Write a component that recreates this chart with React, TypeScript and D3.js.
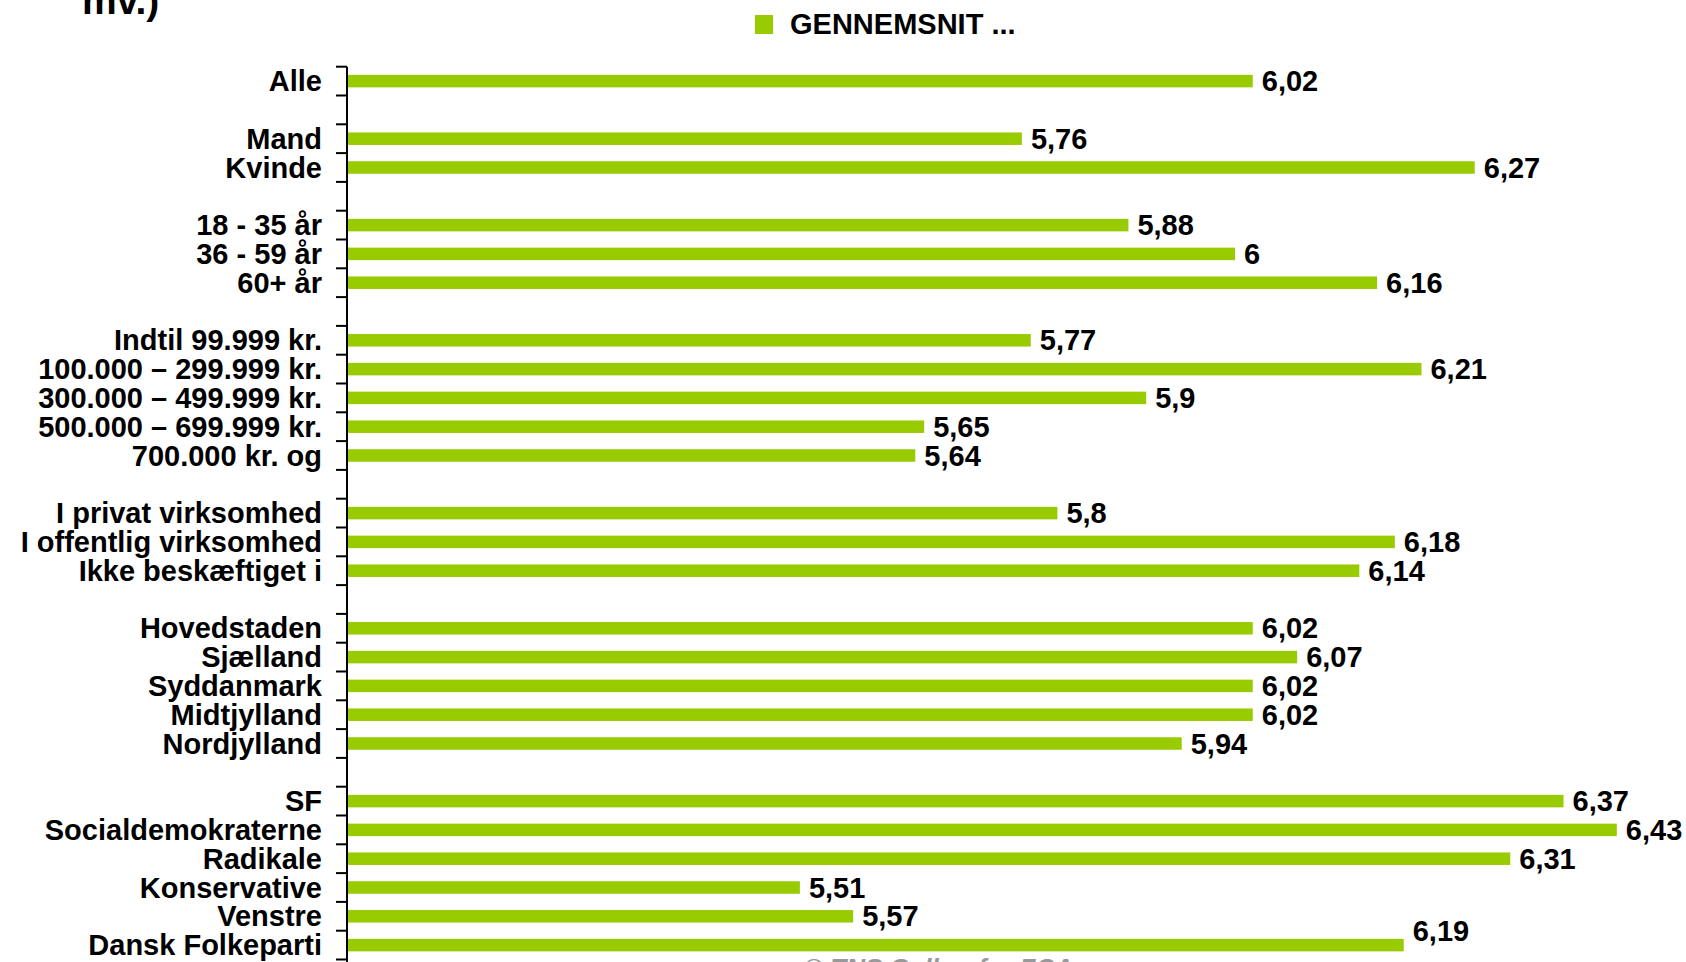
import React from "react";
import * as d3 from "d3";

const categories: string[] = [
  "Alle", "", "Mand", "Kvinde", "",
  "18 - 35 år", "36 - 59 år", "60+ år", "",
  "Indtil 99.999 kr.", "100.000 – 299.999 kr.", "300.000 – 499.999 kr.", "500.000 – 699.999 kr.", "700.000 kr. og", "",
  "I privat virksomhed", "I offentlig virksomhed", "Ikke beskæftiget i", "",
  "Hovedstaden", "Sjælland", "Syddanmark", "Midtjylland", "Nordjylland", "",
  "SF", "Socialdemokraterne", "Radikale", "Konservative", "Venstre", "Dansk Folkeparti",
];

const values: (number | null)[] = [
  6.02, null, 5.76, 6.27, null,
  5.88, 6.0, 6.16, null,
  5.77, 6.21, 5.9, 5.65, 5.64, null,
  5.8, 6.18, 6.14, null,
  6.02, 6.07, 6.02, 6.02, 5.94, null,
  6.37, 6.43, 6.31, 5.51, 5.57, 6.19,
];

const seriesName = "GENNEMSNIT ...";
const titleTail = "mv.)";
const footer = "© TNS Gallup for FCA";
const xDomain: [number, number] = [5, 6.5];

const W = 1686;
const H = 962;
const FONT = "'Liberation Sans', Arial, Helvetica, sans-serif";
const GREEN = "#99CC00";

export default function App() {
  const axisX = 347;
  const top = 66.7;
  const step = 28.8;
  const keys = categories.map((_, i) => String(i));
  const y = d3.scaleBand<string>().domain(keys).range([top, top + step * keys.length]).padding(0);
  const x = d3.scaleLinear().domain(xDomain).range([axisX, axisX + 1.5 * 888]);
  const barH = 12.5;
  const fmt = (v: number) => String(+v.toFixed(2)).replace(".", ",");
  const tickYs = d3.range(keys.length + 1).map((i) => top + i * y.step());

  return (
    <svg
      width={W}
      height={H}
      style={{ position: "absolute", left: 0, top: 0, background: "#fff" }}
      fontFamily={FONT}
    >
      <rect x={0} y={0} width={W} height={H} fill="#fff" />
      <text x={82} y={14} fontSize={39} fontWeight="bold" fill="#000">{titleTail}</text>

      <rect x={755} y={15} width={18} height={19} fill={GREEN} />
      <text x={790} y={34} fontSize={29} fontWeight="bold" fill="#000">{seriesName}</text>

      {values.map((v, i) =>
        v == null ? null : (
          <rect
            key={"b" + i}
            x={x(xDomain[0])}
            y={(y(String(i)) as number) + y.bandwidth() / 2 - barH / 2}
            width={x(v) - x(xDomain[0])}
            height={barH}
            fill={GREEN}
          />
        )
      )}

      <line x1={axisX} x2={axisX} y1={top} y2={H} stroke="#000" strokeWidth={2} />
      {tickYs.map((ty, i) => (
        <line key={"t" + i} x1={axisX - 11} x2={axisX} y1={ty} y2={ty} stroke="#000" strokeWidth={2} />
      ))}

      {categories.map((c, i) =>
        c ? (
          <text
            key={"l" + i}
            x={322}
            y={(y(String(i)) as number) + y.bandwidth() / 2 + 10}
            textAnchor="end"
            fontSize={29}
            fontWeight="bold"
            fill="#000"
          >
            {c}
          </text>
        ) : null
      )}

      {values.map((v, i) =>
        v == null ? null : (
          <text
            key={"v" + i}
            x={x(v) + 9}
            y={(y(String(i)) as number) + y.bandwidth() / 2 + 10 - (i === values.length - 1 ? 14 : 0)}
            fontSize={29}
            fontWeight="bold"
            fill="#000"
          >
            {fmt(v)}
          </text>
        )
      )}

      <text x={804} y={977} fontSize={26} fontWeight="bold" fontStyle="italic" fill="#999999">{footer}</text>
    </svg>
  );
}
